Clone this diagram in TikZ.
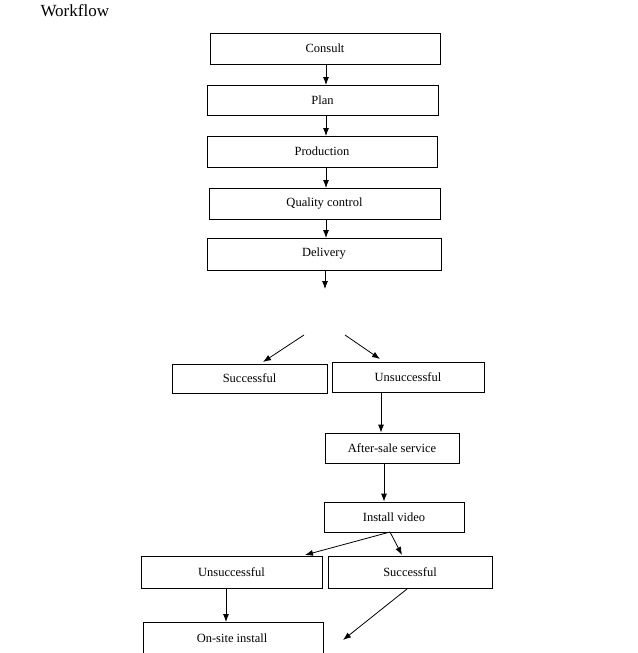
\documentclass[tikz,border=0pt]{standalone}
\usepackage{fontspec}
\setmainfont{Liberation Serif}
\usetikzlibrary{arrows.meta}
\begin{document}
\begin{tikzpicture}[x=1pt,y=-1pt,
  box/.style={draw,line width=0.8pt,inner sep=0pt,font=\fontsize{12.5}{14}\selectfont},
  arr/.style={-{Latex[length=8pt,width=6pt]},line width=0.8pt}]
\useasboundingbox (0,0) rectangle (637,653);
\newcommand{\bx}[6]{\node[box,minimum width=#4-#2,minimum height=#5-#3] (#1) at ({(#2+#4)/2},{(#3+#5)/2}) {#6};}
\node[anchor=west,font=\fontsize{17}{19}\selectfont] (title) at (37,11) {Workflow};
\bx{consult}{210}{33}{440}{64}{Consult}
\bx{plan}{207}{85}{438}{115}{Plan}
\bx{prod}{207}{136}{437}{167}{Production}
\bx{qc}{209}{188}{440}{219}{Quality control}
\bx{deliv}{207}{238}{441}{270}{Delivery}
\bx{succA}{172}{364}{327}{393}{Successful}
\bx{unsA}{332}{362}{484}{392}{Unsuccessful}
\bx{after}{325}{433}{459}{463}{After-sale service}
\bx{video}{324}{502}{464}{532}{Install video}
\bx{unsB}{141}{556}{322}{588}{Unsuccessful}
\bx{succB}{328}{556}{492}{588}{Successful}
\node[box,minimum width=180,minimum height=36,anchor=north west] (onsite) at (143,622) {};
\node[font=\fontsize{12.5}{14}\selectfont] (onsitet) at (232,638) {On-site install};
\draw[arr] (consult.south -| 326,0) -- (326,85);
\draw[arr] (326,115) -- (326,136);
\draw[arr] (326,167) -- (326,188);
\draw[arr] (326,219) -- (326,238);
\coordinate (dsplit) at (325,289);
\draw[arr] (deliv.south -| dsplit) -- (dsplit);
\coordinate (la) at (304,335);
\coordinate (ra) at (345,335);
\draw[arr] (la) -- (263,362);
\draw[arr] (ra) -- (380,359);
\draw[arr] (unsA.south -| 381,0) -- (after.north -| 381,0);
\draw[arr] (after.south -| 384,0) -- (video.north -| 384,0);
\coordinate (vs) at (390,532);
\draw[arr] (vs) -- (305,555);
\draw[arr] (vs) -- (402,555);
\draw[arr] (unsB.south -| 226,0) -- (onsite.north -| 226,0);
\coordinate (free) at (343,640);
\draw[arr] (407,589) -- (free);
\end{tikzpicture}
\end{document}
